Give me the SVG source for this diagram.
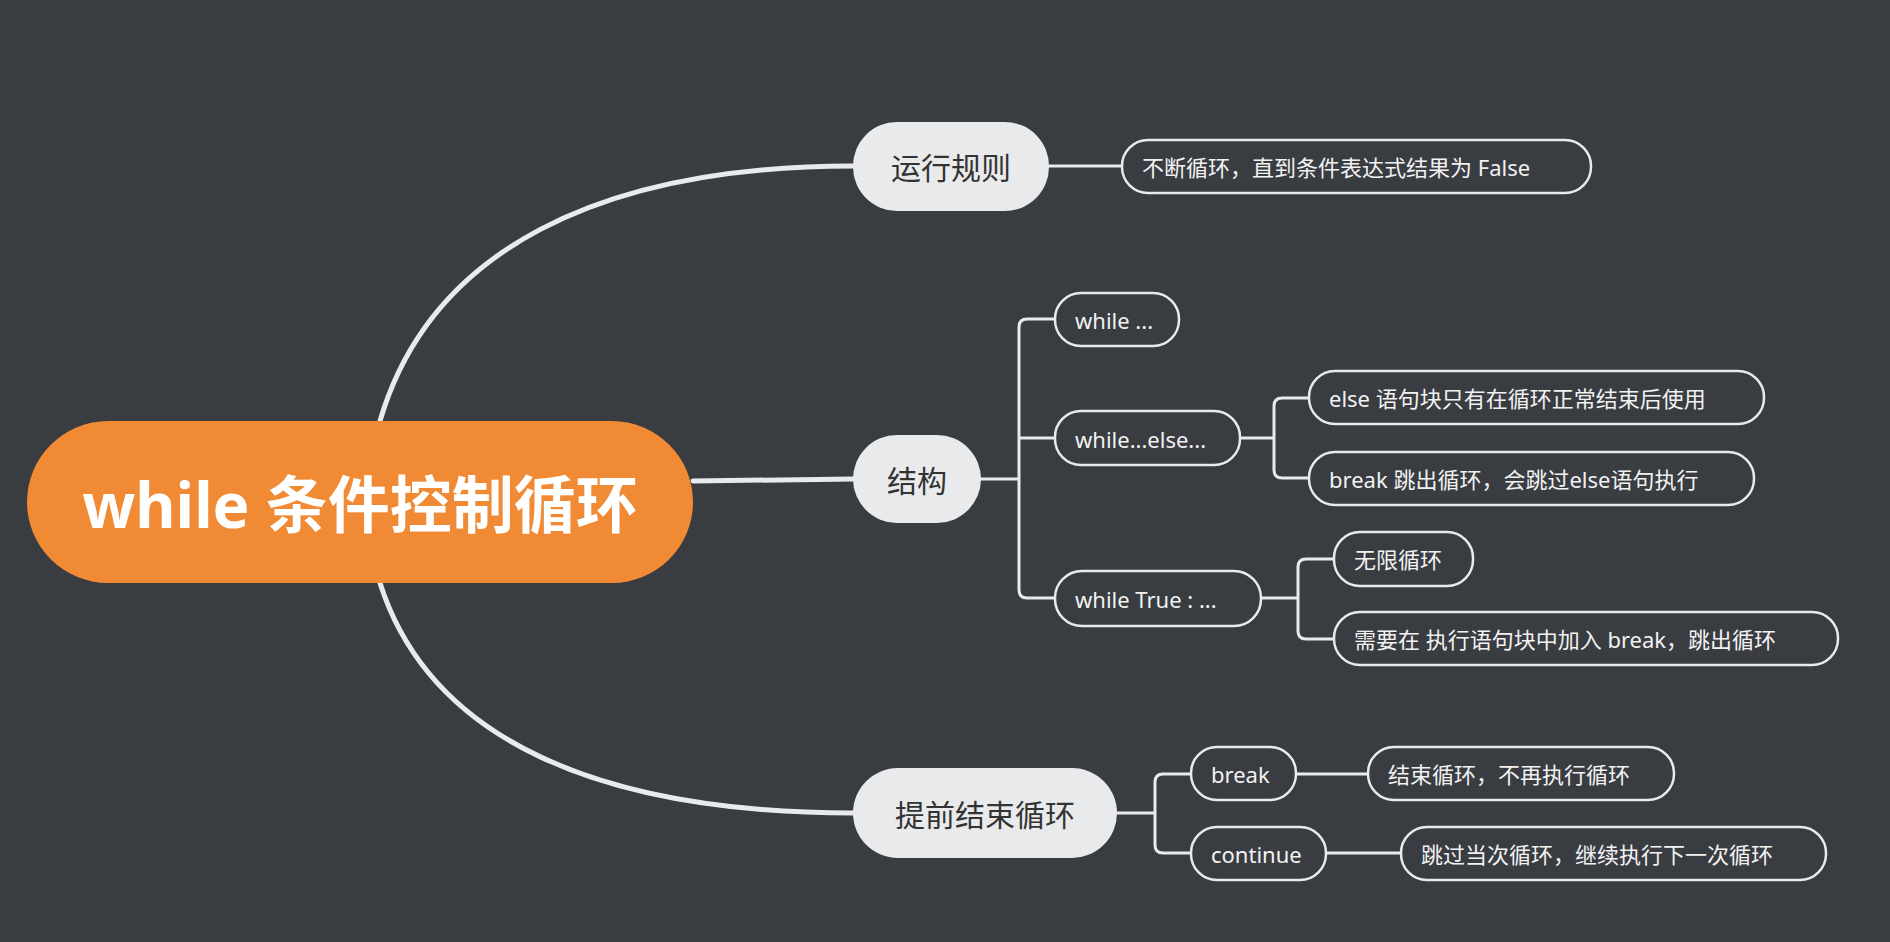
<svg xmlns="http://www.w3.org/2000/svg" width="1890" height="942" viewBox="0 0 1890 942">
<style>
.t{font-family:"Noto Sans","Noto Sans CJK SC",sans-serif;dominant-baseline:central}
.l1 rect{fill:#e9eaec}
.l1 text{fill:#333;font-size:30px;text-anchor:middle}
.l2 rect{fill:#393c41;stroke:#e9eaec;stroke-width:2.5}
.l2 text{fill:#f2f2f2;font-size:22px}
.c{fill:none;stroke:#e9eaec;stroke-linecap:round;stroke-linejoin:round}
</style>
<rect width="1890" height="942" fill="#393c41"/>
<g id="connectors">
<path class="c" stroke-width="5" d="M380,421 C430,250 600,166 853,166"/>
<path class="c" stroke-width="5" d="M380,583 C430,740 600,813 853,813"/>
<path class="c" stroke-width="5" d="M693,481 L853,479"/>
<path class="c" stroke-width="3" d="M1049,166 H1122"/>
<path class="c" stroke-width="3" d="M981,479 H1019 M1055,319 H1027 Q1019,319 1019,327 V590 Q1019,598 1027,598 H1055 M1019,438 H1055"/>
<path class="c" stroke-width="3" d="M1240,438 H1274 M1309,398 H1282 Q1274,398 1274,406 V470 Q1274,478 1282,478 H1309"/>
<path class="c" stroke-width="3" d="M1261,598 H1298 M1334,559 H1306 Q1298,559 1298,567 V631 Q1298,639 1306,639 H1334"/>
<path class="c" stroke-width="3" d="M1117,813 H1155 M1191,774 H1163 Q1155,774 1155,782 V845 Q1155,853 1163,853 H1191"/>
<path class="c" stroke-width="3" d="M1296,774 H1368 M1326,853 H1401"/>
</g>
<g id="root"><rect x="27" y="421" width="666" height="162" rx="81" fill="#f08a35"/><text class="t" x="360" y="504" fill="#fff" font-size="62" font-weight="bold" text-anchor="middle">while 条件控制循环</text></g>
<g id="n1" class="l1"><rect x="853" y="122" width="196" height="89" rx="44"/><text class="t" x="951" y="167">运行规则</text></g>
<g id="n2" class="l1"><rect x="853" y="435" width="128" height="88" rx="44"/><text class="t" x="917" y="480">结构</text></g>
<g id="n3" class="l1"><rect x="853" y="768" width="264" height="90" rx="45"/><text class="t" x="985" y="814">提前结束循环</text></g>
<g id="n4" class="l2"><rect x="1122" y="140" width="469" height="53" rx="26"/><text class="t" x="1142" y="167">不断循环，直到条件表达式结果为 False</text></g>
<g id="n5" class="l2"><rect x="1055" y="293" width="124" height="53" rx="26"/><text class="t" x="1075" y="320">while ...</text></g>
<g id="n6" class="l2"><rect x="1055" y="411" width="185" height="54" rx="26"/><text class="t" x="1075" y="439">while...else...</text></g>
<g id="n7" class="l2"><rect x="1309" y="371" width="455" height="53" rx="26"/><text class="t" x="1329" y="398">else 语句块只有在循环正常结束后使用</text></g>
<g id="n8" class="l2"><rect x="1309" y="452" width="445" height="53" rx="26"/><text class="t" x="1329" y="479">break 跳出循环，会跳过else语句执行</text></g>
<g id="n9" class="l2"><rect x="1055" y="571" width="206" height="55" rx="27"/><text class="t" x="1075" y="599">while True : ...</text></g>
<g id="n10" class="l2"><rect x="1334" y="532" width="139" height="54" rx="26"/><text class="t" x="1354" y="559">无限循环</text></g>
<g id="n11" class="l2"><rect x="1334" y="612" width="504" height="53" rx="26"/><text class="t" x="1354" y="639">需要在 执行语句块中加入 break，跳出循环</text></g>
<g id="n12" class="l2"><rect x="1191" y="747" width="105" height="53" rx="26"/><text class="t" x="1211" y="774">break</text></g>
<g id="n13" class="l2"><rect x="1191" y="827" width="135" height="53" rx="26"/><text class="t" x="1211" y="854">continue</text></g>
<g id="n14" class="l2"><rect x="1368" y="747" width="306" height="53" rx="26"/><text class="t" x="1388" y="774">结束循环，不再执行循环</text></g>
<g id="n15" class="l2"><rect x="1401" y="827" width="425" height="53" rx="26"/><text class="t" x="1421" y="854">跳过当次循环，继续执行下一次循环</text></g>
</svg>
